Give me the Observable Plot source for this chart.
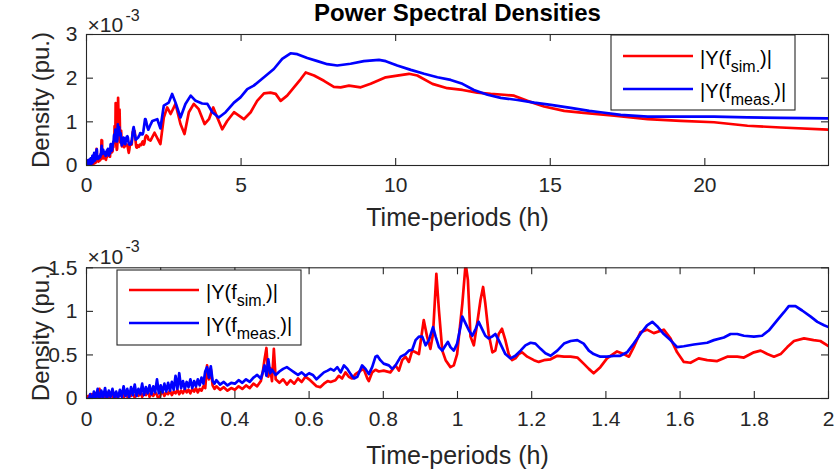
<!DOCTYPE html>
<html><head><meta charset="utf-8">
<script src="https://cdn.jsdelivr.net/npm/d3@7"></script>
<script src="https://cdn.jsdelivr.net/npm/@observablehq/plot@0.6"></script>
<style>
body{margin:0;background:#fff;}
#root{position:relative;width:838px;height:472px;overflow:hidden;font-family:"Liberation Sans",Arial,Helvetica,sans-serif;}
#root > svg{position:absolute;left:0;}
</style></head><body><div id="root"></div>
<script>
// ---- data (density in units of 1e-3, period in hours) ----
const noiseStart = 0, noiseStep = 0.005;
const simNoise = [
0.00,0.03,-0.01,0.05,0.01,0.06,0.02,0.11,0.00,0.04,
0.02,0.07,0.01,0.05,0.02,0.06,0.00,0.04,0.03,0.08,
0.01,0.05,0.02,0.07,0.03,0.06,0.01,0.05,0.03,0.08,
0.02,0.06,0.04,0.09,0.02,0.06,0.03,0.07,0.04,-0.02,
0.05,0.08,0.03,0.07,0.05,0.09,0.04,0.08,0.06,0.10,
0.05,0.09,0.06,0.11,0.07,0.10,0.06,0.11,0.08,0.12,
0.07,0.11,0.09,0.14,0.12,0.38,0.22,0.34,0.15,0.11,
0.14];
const measNoise = [
0.00,-0.04,0.05,-0.05,0.08,0.00,0.11,-0.03,0.09,0.01,
0.12,-0.01,0.09,0.02,0.11,0.01,0.08,0.00,0.10,0.02,
0.14,0.03,0.11,0.01,0.13,0.04,0.16,0.03,0.11,0.05,
0.17,0.04,0.13,0.06,0.15,0.05,0.14,0.07,0.22,0.06,
0.15,0.07,0.17,0.08,0.18,0.09,0.19,0.10,0.26,0.11,
0.29,0.12,0.20,0.11,0.19,0.13,0.22,0.12,0.20,0.14,
0.22,0.15,0.24,0.17,0.31,0.36,0.24,0.37,0.20,0.17,
0.21];
const simPts = [
[0.36,0.10],[0.37,0.13],[0.38,0.09],[0.39,0.12],[0.40,0.10],[0.41,0.14],[0.42,0.11],[0.43,0.15],[0.44,0.12],[0.45,0.17],[0.46,0.14],[0.47,0.20],[0.475,0.30],[0.48,0.45],[0.485,0.58],[0.49,0.25],[0.495,0.35],[0.50,0.20],[0.505,0.57],[0.51,0.22],[0.52,0.18],[0.53,0.22],[0.54,0.16],[0.55,0.21],[0.56,0.17],[0.57,0.23],[0.58,0.19],[0.59,0.25],[0.60,0.22],[0.61,0.18],[0.62,0.14],[0.63,0.13],[0.64,0.17],[0.65,0.20],
[0.658,0.19],[0.671,0.21],[0.680,0.26],[0.689,0.23],[0.698,0.30],[0.707,0.25],[0.716,0.23],[0.725,0.28],[0.739,0.32],[0.747,0.34],[0.757,0.23],[0.761,0.20],[0.770,0.30],[0.779,0.33],[0.788,0.31],[0.801,0.32],[0.819,0.30],[0.833,0.38],[0.842,0.32],[0.851,0.44],[0.860,0.48],[0.869,0.42],[0.878,0.55],[0.887,0.53],[0.896,0.51],[0.905,0.78],[0.909,0.90],[0.918,0.71],[0.927,0.57],[0.934,0.74],[0.943,1.43],[0.950,1.01],[0.959,0.55],[0.968,0.44],[0.981,0.36],[0.990,0.38],[0.999,0.51],[1.013,1.09],[1.022,1.55],[1.028,1.36],[1.035,0.71],[1.044,0.61],[1.053,0.86],[1.062,1.13],[1.069,1.28],[1.075,1.09],[1.084,0.74],[1.094,0.53],[1.102,0.55],[1.111,0.74],[1.120,0.80],[1.129,0.67],[1.138,0.51],[1.147,0.44],[1.156,0.46],[1.165,0.51],[1.174,0.53],[1.188,0.48],[1.206,0.44],[1.219,0.42],[1.233,0.44],[1.251,0.45],[1.269,0.49],[1.287,0.48],[1.305,0.48],[1.323,0.47],[1.340,0.40],[1.354,0.34],[1.367,0.29],[1.385,0.36],[1.403,0.46],[1.430,0.54],[1.448,0.51],[1.462,0.48],[1.475,0.59],[1.493,0.76],[1.511,0.79],[1.529,0.75],[1.556,0.79],[1.574,0.69],[1.592,0.53],[1.610,0.42],[1.628,0.41],[1.650,0.46],[1.673,0.44],[1.700,0.43],[1.727,0.48],[1.754,0.48],[1.772,0.47],[1.799,0.53],[1.817,0.55],[1.835,0.51],[1.853,0.48],[1.871,0.51],[1.889,0.59],[1.907,0.66],[1.934,0.69],[1.960,0.67],[1.978,0.66],[2.0,0.60],
[2.07,0.57],[2.2,0.75],[2.39,0.49],[2.50,1.10],[2.61,1.33],[2.72,1.18],[2.88,1.41],[3.04,0.95],[3.17,0.72],[3.31,1.22],[3.47,1.41],[3.63,1.29],[3.82,0.95],[3.96,1.06],[4.10,1.33],[4.23,1.10],[4.39,0.83],[4.55,1.02],[4.77,1.22],[4.93,1.14],[5.09,1.06],[5.31,1.22],[5.52,1.48],[5.74,1.65],[5.95,1.67],[6.12,1.64],[6.28,1.48],[6.49,1.60],[6.71,1.79],[6.93,1.98],[7.09,2.13],[7.36,2.06],[7.68,1.94],[8.00,1.80],[8.22,1.79],[8.49,1.83],[8.87,1.79],[9.19,1.87],[9.68,2.02],[10.05,2.06],[10.43,2.10],[10.70,2.06],[11.19,1.87],[11.67,1.77],[12.16,1.73],[12.64,1.67],[13.07,1.64],[13.50,1.62],[13.83,1.60],[14.26,1.48],[14.80,1.35],[15.45,1.25],[16.0,1.21],[17.07,1.14],[18.15,1.06],[19.22,1.02],[20.30,0.99],[21.38,0.91],[22.46,0.87],[24.0,0.82]];
const measPts = [
[0.36,0.16],[0.37,0.19],[0.38,0.15],[0.39,0.18],[0.40,0.17],[0.41,0.21],[0.42,0.18],[0.43,0.22],[0.44,0.19],[0.45,0.24],[0.46,0.27],[0.47,0.23],[0.475,0.30],[0.48,0.38],[0.485,0.26],[0.49,0.45],[0.495,0.29],[0.50,0.33],[0.51,0.27],[0.52,0.31],[0.53,0.34],[0.54,0.36],[0.55,0.33],[0.56,0.30],[0.57,0.27],[0.58,0.30],[0.59,0.26],[0.60,0.29],[0.61,0.27],[0.62,0.22],[0.63,0.26],[0.64,0.30],[0.65,0.32],
[0.658,0.34],[0.667,0.32],[0.676,0.36],[0.685,0.30],[0.694,0.38],[0.703,0.34],[0.712,0.28],[0.721,0.23],[0.730,0.25],[0.743,0.38],[0.752,0.34],[0.761,0.28],[0.770,0.36],[0.779,0.48],[0.784,0.49],[0.792,0.44],[0.801,0.40],[0.815,0.38],[0.824,0.34],[0.833,0.38],[0.847,0.48],[0.860,0.51],[0.869,0.55],[0.878,0.56],[0.887,0.67],[0.896,0.71],[0.905,0.71],[0.914,0.61],[0.923,0.67],[0.934,0.82],[0.941,0.71],[0.950,0.59],[0.959,0.55],[0.968,0.61],[0.974,0.65],[0.981,0.59],[0.990,0.55],[0.999,0.63],[1.008,0.82],[1.013,0.94],[1.022,0.86],[1.031,0.78],[1.040,0.72],[1.049,0.80],[1.057,0.88],[1.066,0.80],[1.075,0.72],[1.084,0.69],[1.093,0.71],[1.102,0.74],[1.111,0.67],[1.120,0.59],[1.129,0.51],[1.143,0.46],[1.156,0.49],[1.170,0.55],[1.183,0.61],[1.197,0.64],[1.210,0.63],[1.224,0.57],[1.237,0.52],[1.251,0.49],[1.269,0.55],[1.287,0.63],[1.305,0.66],[1.323,0.67],[1.340,0.63],[1.354,0.55],[1.367,0.51],[1.385,0.48],[1.403,0.48],[1.421,0.49],[1.439,0.49],[1.457,0.53],[1.475,0.63],[1.493,0.74],[1.511,0.84],[1.525,0.88],[1.538,0.83],[1.556,0.74],[1.574,0.67],[1.592,0.59],[1.610,0.60],[1.637,0.62],[1.673,0.64],[1.691,0.67],[1.718,0.70],[1.736,0.74],[1.754,0.74],[1.772,0.72],[1.799,0.71],[1.821,0.72],[1.839,0.78],[1.862,0.90],[1.880,0.99],[1.893,1.06],[1.911,1.06],[1.929,1.01],[1.952,0.94],[1.970,0.88],[1.988,0.84],[2.0,0.82],
[2.08,0.95],[2.13,1.02],[2.29,1.06],[2.39,0.85],[2.50,1.37],[2.66,1.44],[2.77,1.64],[2.88,1.44],[3.04,1.10],[3.20,1.41],[3.37,1.60],[3.53,1.48],[3.74,1.42],[3.91,1.41],[4.07,1.22],[4.28,1.10],[4.50,1.22],[4.77,1.44],[4.98,1.56],[5.20,1.75],[5.41,1.83],[5.74,2.02],[6.06,2.21],[6.33,2.44],[6.60,2.57],[6.82,2.55],[7.14,2.46],[7.47,2.39],[7.79,2.32],[8.11,2.29],[8.54,2.33],[8.97,2.39],[9.46,2.42],[9.68,2.39],[10.05,2.29],[10.49,2.19],[10.92,2.10],[11.35,2.02],[11.78,1.96],[12.16,1.87],[12.53,1.73],[12.97,1.62],[13.40,1.55],[13.94,1.50],[14.48,1.44],[15.02,1.39],[15.66,1.32],[16.26,1.25],[16.63,1.22],[17.28,1.16],[18.15,1.12],[19.22,1.12],[20.30,1.12],[21.38,1.10],[22.46,1.09],[24.0,1.08]];

const topXTicks = [0,5,10,15,20];
const topYTicks = [0,1,2,3];
const botXTicks = [0,0.2,0.4,0.6,0.8,1,1.2,1.4,1.6,1.8,2];
const botYTicks = [0,0.5,1,1.5];
const legendItems = [
  {main:"|Y(f", sub:"sim.", tail:")|", color:"#ff0000"},
  {main:"|Y(f", sub:"meas.", tail:")|", color:"#0000ff"}
];
const titleText = "Power Spectral Densities";
const xLabelText = "Time-periods (h)";
const yLabelText = "Density (pu.)";

// ---- build tables ----
function series(noise, pts) {
  return noise.map((v, i) => ({t: noiseStart + i * noiseStep, v})).concat(pts.map(([t, v]) => ({t, v})));
}
const simRows = series(simNoise, simPts);
const measRows = series(measNoise, measPts);

const AX = "#262626";
const FONT = "Liberation Sans, Arial, Helvetica, sans-serif";
const W = 838, ML = 86, MR = 10;
const LW = 2.7;

function panel({xDomain, yDomain, xTicks, yTicks, height, mt, mb, xPad, xLabelDy, expDy, supDy, title}) {
  const fh = height - mt - mb, fw = W - ML - MR;
  const marks = [
    Plot.line(simRows, {x: "t", y: "v", stroke: "#ff0000", strokeWidth: LW, clip: true, strokeLinejoin: "round"}),
    Plot.line(measRows, {x: "t", y: "v", stroke: "#0000ff", strokeWidth: LW, clip: true, strokeLinejoin: "round"}),
    Plot.frame({stroke: AX, strokeWidth: 1.1}),
    Plot.tickX(xTicks, {x: d => d, insetTop: fh - 7, stroke: AX, strokeWidth: 1.1}),
    Plot.tickX(xTicks, {x: d => d, insetBottom: fh - 7, stroke: AX, strokeWidth: 1.1}),
    Plot.tickY(yTicks, {y: d => d, insetRight: fw - 7, stroke: AX, strokeWidth: 1.1}),
    Plot.tickY(yTicks, {y: d => d, insetLeft: fw - 7, stroke: AX, strokeWidth: 1.1}),
    Plot.axisX(xTicks, {tickSize: 0, tickPadding: xPad, tickFormat: d => String(d), label: null, fontSize: 21, fill: AX}),
    Plot.axisY(yTicks, {tickSize: 0, tickPadding: 9, tickFormat: d => String(d), label: null, fontSize: 21, fill: AX}),
    Plot.text([xLabelText], {text: d => d, frameAnchor: "bottom", textAnchor: "middle", dy: xLabelDy, lineAnchor: "bottom", fontSize: 25, fill: AX}),
    Plot.text([yLabelText], {text: d => d, frameAnchor: "left", textAnchor: "middle", rotate: -90, dx: -45, lineAnchor: "middle", fontSize: 24, fill: AX}),
    Plot.text(["×10"], {text: d => d, frameAnchor: "top-left", textAnchor: "start", dx: 1, dy: expDy, lineAnchor: "bottom", fontSize: 21, fill: AX}),
    Plot.text(["-3"], {text: d => d, frameAnchor: "top-left", textAnchor: "start", dx: 39, dy: supDy, lineAnchor: "bottom", fontSize: 16, fill: AX})
  ];
  if (title) marks.push(Plot.text([title], {text: d => d, frameAnchor: "top", textAnchor: "middle", dy: -13.5, lineAnchor: "bottom", fontSize: 24, fontWeight: "bold", fill: "#000"}));
  return Plot.plot({
    width: W, height, marginLeft: ML, marginRight: MR, marginTop: mt, marginBottom: mb,
    x: {domain: xDomain}, y: {domain: yDomain},
    style: {fontFamily: FONT, fontSize: "21px", color: AX, background: "transparent", overflow: "visible"},
    marks
  });
}

const root = document.getElementById("root");
const topPanel = panel({xDomain: [0, 24], yDomain: [0, 3], xTicks: topXTicks, yTicks: topYTicks, height: 236, mt: 34, mb: 71, xPad: 12, xLabelDy: 60, expDy: -2.4, supDy: -14, title: titleText});
topPanel.style.top = "0px";
root.appendChild(topPanel);
const botPanel = panel({xDomain: [0, 2], yDomain: [0, 1.5], xTicks: botXTicks, yTicks: botYTicks, height: 236, mt: 31.3, mb: 74, xPad: 13, xLabelDy: 65, expDy: -4.3, supDy: -15.5, title: null});
botPanel.style.top = "236px";
root.appendChild(botPanel);

// ---- legends ----
const ov = d3.create("svg").attr("width", W).attr("height", 472).style("top", "0px")
  .attr("font-family", FONT);
function legend(x0, y0, w, h, rowYs) {
  const g = ov.append("g");
  g.append("rect").attr("x", x0).attr("y", y0).attr("width", w).attr("height", h)
    .attr("fill", "#fff").attr("stroke", AX).attr("stroke-width", 1.1);
  legendItems.forEach((it, i) => {
    const y = rowYs[i];
    g.append("line").attr("x1", x0 + 12).attr("x2", x0 + 82).attr("y1", y).attr("y2", y)
      .attr("stroke", it.color).attr("stroke-width", LW);
    const t = g.append("text").attr("x", x0 + 89).attr("y", y + 9).attr("font-size", 20).attr("fill", "#000");
    t.append("tspan").text(it.main);
    t.append("tspan").attr("font-size", 16).attr("dy", 7).text(it.sub);
    t.append("tspan").attr("dy", -7).text(it.tail);
  });
}
legend(611, 35, 184, 75, [56, 89]);
legend(117, 270, 184, 75, [290, 323]);
root.appendChild(ov.node());
</script>
</body></html>
